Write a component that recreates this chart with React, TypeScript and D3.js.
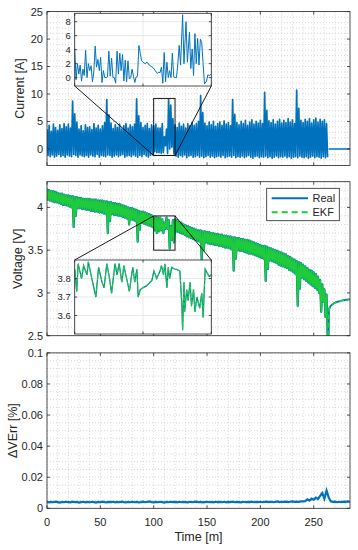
import React from 'react';
import * as d3 from 'd3';

// ---------- DATA ----------
const timeTicks = [0, 50, 100, 150, 200, 250];
const curTicks = [0, 5, 10, 15, 20, 25];
const voltTicks = [2.5, 3, 3.5, 4];
const voltTickLabels = ['2.5', '3', '3.5', '4'];
const errTicks = [0, 0.02, 0.04, 0.06, 0.08, 0.1];
const errTickLabels = ['0', '0.02', '0.04', '0.06', '0.08', '0.1'];
const curInsetTicks = [0, 2, 4, 6, 8];
const voltInsetTicks = [3.6, 3.7, 3.8];
const insetTimeTicks = [100, 110, 120];

// current: max / min per 2-minute bin, t = 0..264
const curHi = [
  3.6, 4.3, 3.2, 4.5, 3.9, 3.4, 4.4, 3.7, 4.6, 4.0,
  4.5, 3.8, 8.7, 6.4, 4.9, 3.6, 4.2, 3.3, 4.4, 3.9,
  4.0, 3.5, 4.6, 3.8, 4.3, 3.6, 4.2, 4.8, 9.0, 6.2,
  4.7, 3.7, 4.4, 3.9, 4.5, 3.6, 4.2, 4.6, 3.8, 4.4,
  4.0, 4.5, 9.1, 6.0, 4.8, 3.9, 4.3, 4.6, 3.7, 4.4,
  4.2, 4.5, 3.8, 3.8, 4.6, 2.2, 3.6, 9.0, 8.0, 5.5,
  4.4, 3.9, 4.7, 4.1, 4.5, 3.8, 4.6, 4.2, 4.8, 4.3,
  4.6, 5.0, 9.7, 6.6, 4.7, 4.2, 4.9, 4.4, 5.0, 4.1,
  4.6, 4.9, 4.3, 5.1, 4.5, 4.8, 4.2, 9.0, 6.3, 4.8,
  4.4, 5.0, 4.6, 5.2, 4.3, 4.9, 5.3, 4.5, 5.0, 4.7,
  5.2, 4.6, 10.3, 7.0, 5.1, 4.8, 5.3, 4.5, 5.0, 5.4,
  4.7, 5.2, 4.8, 5.5, 4.9, 5.3, 4.6, 10.7, 7.4, 5.2,
  4.8, 5.4, 5.0, 5.5, 4.7, 5.3, 5.6, 4.9, 5.4, 5.0, 5.3, 4.6,
];
const curLo = [
  -1.2, -1.4, -1.1, -1.5, -1.3, -1.0, -1.4, -1.2, -1.5, -1.1,
  -1.3, -1.4, -1.0, -1.2, -1.5, -1.1, -1.3, -1.4, -1.2, -1.5,
  -1.1, -1.3, -1.4, -1.0, -1.5, -1.2, -1.3, -1.4, -1.1, -1.2,
  -1.5, -1.3, -1.1, -1.4, -1.2, -1.0, -1.5, -1.3, -1.2, -1.4,
  -1.1, -1.3, -1.5, -1.2, -1.4, -1.0, -1.3, -1.5, -1.2, -1.1,
  -0.5, -0.7, -0.7, -0.8, -0.7, 0.6, -0.8, 0.0, 0.3, -0.9,
  -1.3, -1.5, -1.2, -1.4, -1.1, -1.6, -1.3, -1.2, -1.5, -1.4,
  -1.2, -1.5, -1.3, -1.6, -1.4, -1.2, -1.5, -1.3, -1.6, -1.4,
  -1.3, -1.5, -1.2, -1.6, -1.4, -1.3, -1.5, -1.2, -1.6, -1.4,
  -1.5, -1.3, -1.6, -1.4, -1.2, -1.5, -1.7, -1.4, -1.3, -1.6,
  -1.4, -1.5, -1.3, -1.6, -1.4, -1.7, -1.5, -1.3, -1.6, -1.4,
  -1.5, -1.3, -1.6, -1.4, -1.7, -1.5, -1.4, -1.6, -1.3, -1.5,
  -1.6, -1.4, -1.7, -1.5, -1.3, -1.6, -1.4, -1.5, -1.7, -1.4, -1.6, -1.5,
];
const curRestT = [264, 284];
const curRestV = [0, 0];

// current zoom (100-120 min)
const insetCurT = [
  100.0, 100.2, 100.4, 100.6, 100.8, 101.0, 101.2, 101.4, 101.6, 101.8,
  102.0, 102.2, 102.4, 102.6, 102.8, 103.0, 103.2, 103.4, 103.6, 103.8,
  104.0, 104.2, 104.4, 104.6, 104.8, 105.0, 105.2, 105.4, 105.6, 105.8,
  106.0, 106.2, 106.4, 106.6, 106.8, 107.0, 107.2, 107.4, 107.6, 107.8,
  108.0, 108.2, 108.4, 108.6, 108.8, 109.0, 109.2, 109.4, 109.6, 109.8,
  110.0, 110.3, 110.6, 110.9, 111.2, 111.5, 111.8, 112.1, 112.3, 112.5,
  112.7, 112.9, 113.1, 113.3, 113.5, 113.7, 113.9, 114.1, 114.3, 114.5,
  114.7, 114.9, 115.1, 115.3, 115.5, 115.8, 116.0, 116.3, 116.5, 116.8,
  117.0, 117.2, 117.4, 117.6, 117.8, 118.0, 118.2, 118.4, 118.6, 118.8,
  119.0, 119.3, 119.5, 119.7, 120.0,
];
const insetCurV = [
  4.2, -0.3, 2.0, 0.5, 1.8, -0.5, 1.2, 0.3, 3.9, 0.0,
  2.0, 1.0, 1.7, -0.6, 0.8, 4.5, 1.5, 2.6, 1.0, 2.9,
  -0.7, 1.0, 0.0, 0.0, 0.1, 3.8, 0.2, 2.8, 0.0, 0.0,
  -0.8, 3.8, 0.5, 3.5, 1.0, 3.3, -0.5, 2.5, -0.6, 2.4,
  -0.2, 0.0, 1.2, 0.2, -0.7, 0.1, 0.2, 4.6, 3.5, 2.4,
  2.2, 2.0, 2.2, 1.8, 1.6, 1.4, 1.0, 0.6, 0.8, 0.7,
  1.5, -0.8, 3.6, -0.6, 2.2, 0.0, 1.0, 0.0, 3.5, 0.1,
  0.0, 0.0, 2.0, 4.6, 1.8, 9.0, 2.0, 8.0, 2.2, 6.5,
  1.3, 4.1, 0.3, 6.3, 2.0, 5.6, 1.8, 5.5, 5.0, 2.0,
  -0.9, -0.5, 0.4, 0.3, 0.5,
];

// voltage: max / min per 2-minute bin, t = 0..264
const voltHi = [
  4.22, 4.20, 4.19, 4.19, 4.18, 4.17, 4.16, 4.16, 4.15, 4.14,
  4.14, 4.13, 4.13, 4.12, 4.12, 4.11, 4.11, 4.10, 4.10, 4.10,
  4.10, 4.09, 4.09, 4.09, 4.08, 4.08, 4.08, 4.07, 4.07, 4.06,
  4.06, 4.05, 4.05, 4.04, 4.04, 4.03, 4.02, 4.01, 4.00, 3.99,
  3.99, 3.98, 3.97, 3.96, 3.95, 3.95, 3.94, 3.93, 3.92, 3.91,
  3.88, 3.89, 3.88, 3.88, 3.86, 3.82, 3.88, 3.85, 3.78, 3.85,
  3.86, 3.85, 3.83, 3.82, 3.80, 3.79, 3.78, 3.77, 3.76, 3.75,
  3.74, 3.73, 3.73, 3.72, 3.72, 3.71, 3.71, 3.70, 3.70, 3.69,
  3.69, 3.68, 3.68, 3.67, 3.67, 3.66, 3.66, 3.65, 3.65, 3.64,
  3.64, 3.63, 3.63, 3.62, 3.62, 3.61, 3.60, 3.59, 3.58, 3.57,
  3.56, 3.55, 3.55, 3.54, 3.53, 3.52, 3.51, 3.50, 3.49, 3.48,
  3.47, 3.46, 3.45, 3.43, 3.42, 3.40, 3.39, 3.37, 3.36, 3.35,
  3.33, 3.31, 3.29, 3.27, 3.26, 3.24, 3.22, 3.19, 3.15, 3.10, 3.04, 2.98,
];
const voltLo = [
  4.09, 4.08, 4.07, 4.06, 4.06, 4.05, 4.04, 4.03, 4.03, 4.02,
  4.01, 4.00, 3.77, 3.90, 3.99, 3.99, 3.98, 3.98, 3.97, 3.97,
  3.96, 3.96, 3.95, 3.95, 3.94, 3.94, 3.93, 3.92, 3.70, 3.84,
  3.92, 3.91, 3.91, 3.90, 3.90, 3.89, 3.88, 3.87, 3.80, 3.86,
  3.85, 3.84, 3.60, 3.74, 3.82, 3.81, 3.80, 3.79, 3.78, 3.77,
  3.73, 3.70, 3.72, 3.73, 3.70, 3.75, 3.75, 3.52, 3.62, 3.59,
  3.72, 3.71, 3.70, 3.69, 3.68, 3.66, 3.65, 3.64, 3.63, 3.62,
  3.61, 3.60, 3.39, 3.50, 3.59, 3.58, 3.57, 3.57, 3.56, 3.56,
  3.55, 3.55, 3.54, 3.53, 3.53, 3.52, 3.51, 3.26, 3.40, 3.50,
  3.49, 3.49, 3.48, 3.47, 3.46, 3.46, 3.45, 3.44, 3.43, 3.42,
  3.41, 3.40, 3.14, 3.28, 3.38, 3.37, 3.36, 3.35, 3.33, 3.32,
  3.31, 3.30, 3.29, 3.27, 3.26, 3.24, 3.22, 2.85, 3.05, 3.18,
  3.16, 3.14, 3.12, 3.10, 3.08, 3.06, 3.04, 3.00, 2.78, 2.90, 2.72, 2.50,
];
const voltRestT = [264, 264.4, 265, 266, 268, 270, 272, 275, 278, 281, 284];
const voltRestV = [2.5, 2.8, 2.83, 2.85, 2.87, 2.885, 2.895, 2.905, 2.915, 2.92, 2.925];

// voltage zoom (100-120 min)
const insetVoltT = [
  100.0, 100.3, 100.5, 101.0, 101.3, 101.8, 102.0, 102.5, 103.1, 103.5,
  104.0, 104.3, 104.7, 105.1, 105.4, 105.9, 106.2, 106.5, 106.9, 107.2,
  107.6, 108.0, 108.5, 108.8, 109.1, 109.3, 109.6, 110.0, 110.5, 111.3,
  111.6, 112.0, 112.5, 112.7, 113.0, 113.2, 113.5, 113.7, 113.9, 114.2,
  114.7, 114.9, 115.4, 115.7, 115.8, 116.0, 116.1, 116.4, 116.6, 116.9,
  117.1, 117.4, 117.6, 117.9, 118.1, 118.3, 118.6, 118.8, 119.1, 119.4,
  119.7, 120.0,
];
const insetVoltV = [
  3.85, 3.73, 3.88, 3.80, 3.87, 3.82, 3.89, 3.80, 3.70, 3.86,
  3.78, 3.75, 3.88, 3.80, 3.72, 3.88, 3.82, 3.88, 3.78, 3.87,
  3.80, 3.73, 3.86, 3.78, 3.85, 3.70, 3.74, 3.75, 3.76, 3.79,
  3.84, 3.80, 3.84, 3.87, 3.82, 3.88, 3.75, 3.86, 3.80, 3.86,
  3.85, 3.85, 3.84, 3.65, 3.52, 3.78, 3.62, 3.74, 3.68, 3.78,
  3.65, 3.74, 3.62, 3.70, 3.67, 3.64, 3.72, 3.59, 3.85, 3.83,
  3.81, 3.82,
];

// voltage error, every 2 minutes, t = 0..284
const errV = [
  .0042, .0038, .0041, .0039, .0043, .0040, .0037, .0041, .0039, .0042,
  .0040, .0038, .0043, .0039, .0041, .0037, .0040, .0042, .0038, .0041,
  .0039, .0042, .0040, .0037, .0041, .0039, .0043, .0040, .0038, .0041,
  .0040, .0042, .0038, .0041, .0039, .0043, .0040, .0038, .0041, .0039,
  .0042, .0039, .0041, .0038, .0040, .0043, .0039, .0041, .0044, .0040,
  .0038, .0041, .0039, .0042, .0040, .0037, .0041, .0039, .0042, .0040,
  .0041, .0038, .0042, .0039, .0041, .0040, .0038, .0042, .0039, .0041,
  .0043, .0039, .0041, .0038, .0040, .0042, .0039, .0041, .0038, .0042,
  .0040, .0041, .0039, .0042, .0038, .0041, .0040, .0043, .0039, .0041,
  .0040, .0038, .0042, .0039, .0041, .0040, .0043, .0039, .0041, .0040,
  .0042, .0039, .0041, .0043, .0040, .0042, .0039, .0041, .0044, .0040,
  .0042, .0041, .0043, .0040, .0042, .0044, .0041, .0043, .0042, .0045,
  .0044, .0046, .0058, .0050, .0062, .0055, .0068, .0060, .0080, .0098,
  .0062, .0115, .0070, .0045, .0041, .0043, .0039, .0042, .0040, .0043,
  .0041, .0044, .0042,
];

const seriesNames = ['Real', 'EKF'];

// ---------- STYLE / LAYOUT ----------
const BLUE = '#0072BD';
const GREEN = '#1ecb3a';
const AX = '#262626';
const GRID = '#c6c6c6';
const FONT = '"Liberation Sans", Arial, Helvetica, sans-serif';

const W = 358, H = 550;
const xS = d3.scaleLinear().domain([0, 284]).range([47, 350]);
const yCur = d3.scaleLinear().domain([-3, 25]).range([165.4, 11.6]);
const yVolt = d3.scaleLinear().domain([2.5, 4.3]).range([335.7, 181.7]);
const yErr = d3.scaleLinear().domain([0, 0.1]).range([508.3, 352.9]);

const xInset = d3.scaleLinear().domain([100, 120]).range([74.7, 211.3]);
const yCurInset = d3.scaleLinear().domain([-1.2, 9.2]).range([86, 13.3]);
const yVoltInset = d3.scaleLinear().domain([3.5, 3.9]).range([334, 260]);

function range(a: number, b: number, step: number) {
  const out: number[] = [];
  for (let v = a; v <= b + step * 1e-6; v += step) out.push(+v.toFixed(6));
  return out;
}

// max/min bins -> alternating samples (max at bin start, min at bin middle)
function zig(hi: number[], lo: number[]) {
  const pts: { t: number; v: number }[] = [];
  hi.forEach((h, i) => {
    pts.push({ t: i * 2, v: h });
    pts.push({ t: i * 2 + 1, v: lo[i] });
  });
  return pts;
}

function Panel({ y, yTicks, yLabels, yMinorStep, label, labelX, showX, clipId }: any) {
  const [x0, x1] = xS.range();
  const [yb, yt] = y.range();
  const xMinor = range(0, 284, 10);
  const [d0, d1] = y.domain();
  const yMinor = range(Math.ceil(d0 / yMinorStep) * yMinorStep, d1, yMinorStep);
  return (
    <g>
      <defs>
        <clipPath id={clipId}>
          <rect x={x0} y={yt} width={x1 - x0} height={yb - yt} />
        </clipPath>
      </defs>
      <rect x={x0} y={yt} width={x1 - x0} height={yb - yt} fill="#fff" />
      <g stroke={GRID} strokeWidth={0.7} strokeDasharray="1,2">
        {xMinor.map((t) => (
          <line key={'gx' + t} x1={xS(t)} x2={xS(t)} y1={yt} y2={yb} />
        ))}
        {yMinor.map((v) => (
          <line key={'gy' + v} x1={x0} x2={x1} y1={y(v)} y2={y(v)} />
        ))}
      </g>
      <g fontFamily={FONT} fontSize={11} fill={AX} textAnchor="end">
        {yTicks.map((v: number, i: number) => (
          <text key={'yl' + v} x={x0 - 4} y={y(v)} dy="0.36em">
            {yLabels[i]}
          </text>
        ))}
      </g>
      {showX && (
        <g fontFamily={FONT} fontSize={11} fill={AX} textAnchor="middle">
          {timeTicks.map((t) => (
            <text key={'xl' + t} x={xS(t)} y={yb + 17.5}>
              {t}
            </text>
          ))}
        </g>
      )}
      <text
        transform={`translate(${labelX},${(yt + yb) / 2}) rotate(-90)`}
        textAnchor="middle"
        fontFamily={FONT}
        fontSize={12.5}
        fill={AX}
      >
        {label}
      </text>
    </g>
  );
}

function Frame({ y, yTicks }: any) {
  const [x0, x1] = xS.range();
  const [yb, yt] = y.range();
  const tl = 3;
  return (
    <g stroke={AX} strokeWidth={0.8} fill="none">
      <rect x={x0} y={yt} width={x1 - x0} height={yb - yt} />
      {timeTicks.map((t) => (
        <g key={'tx' + t}>
          <line x1={xS(t)} x2={xS(t)} y1={yb} y2={yb - tl} />
          <line x1={xS(t)} x2={xS(t)} y1={yt} y2={yt + tl} />
        </g>
      ))}
      {yTicks.map((v: number) => (
        <g key={'ty' + v}>
          <line x1={x0} x2={x0 + tl} y1={y(v)} y2={y(v)} />
          <line x1={x1} x2={x1 - tl} y1={y(v)} y2={y(v)} />
        </g>
      ))}
    </g>
  );
}

function Inset({ y, yTicks, yLabels, children, clipId }: any) {
  const [x0, x1] = xInset.range();
  const [yb, yt] = y.range();
  return (
    <g>
      <defs>
        <clipPath id={clipId}>
          <rect x={x0} y={yt} width={x1 - x0} height={yb - yt} />
        </clipPath>
      </defs>
      <rect x={x0} y={yt} width={x1 - x0} height={yb - yt} fill="#fff" />
      <g stroke="#e3e3e3" strokeWidth={0.8}>
        {insetTimeTicks.map((t) => (
          <line key={'ix' + t} x1={xInset(t)} x2={xInset(t)} y1={yt} y2={yb} />
        ))}
        {yTicks.map((v: number) => (
          <line key={'iy' + v} x1={x0} x2={x1} y1={y(v)} y2={y(v)} />
        ))}
      </g>
      <g clipPath={`url(#${clipId})`}>{children}</g>
      <g stroke={AX} strokeWidth={0.8} fill="none">
        <rect x={x0} y={yt} width={x1 - x0} height={yb - yt} />
        {insetTimeTicks.map((t) => (
          <g key={'itx' + t}>
            <line x1={xInset(t)} x2={xInset(t)} y1={yb} y2={yb - 2.5} />
            <line x1={xInset(t)} x2={xInset(t)} y1={yt} y2={yt + 2.5} />
          </g>
        ))}
        {yTicks.map((v: number) => (
          <g key={'ity' + v}>
            <line x1={x0} x2={x0 + 2.5} y1={y(v)} y2={y(v)} />
            <line x1={x1} x2={x1 - 2.5} y1={y(v)} y2={y(v)} />
          </g>
        ))}
      </g>
      <g fontFamily={FONT} fontSize={9.5} fill={AX} textAnchor="end">
        {yTicks.map((v: number, i: number) => (
          <text key={'itl' + v} x={x0 - 4} y={y(v)} dy="0.36em">
            {yLabels[i]}
          </text>
        ))}
      </g>
    </g>
  );
}

export default function App() {
  const curPts = zig(curHi, curLo);
  const voltPts = zig(voltHi, voltLo);

  const curZig = d3.line<any>().x((d) => xS(d.t)).y((d) => yCur(d.v))(curPts) as string;
  const curRest = d3.line<number>().x((t) => xS(t)).y((_, i) => yCur(curRestV[i]))(curRestT) as string;

  const voltZig = d3.line<any>().x((d) => xS(d.t)).y((d) => yVolt(d.v))(voltPts) as string;
  const voltRest = d3.line<number>().x((t) => xS(t)).y((_, i) => yVolt(voltRestV[i])).curve(d3.curveMonotoneX)(voltRestT) as string;

  const errLine = d3.line<number>().x((_, i) => xS(i * 2)).y((v) => yErr(v))(errV) as string;

  const curInsetLine = d3.line<number>().x((t) => xInset(t)).y((_, i) => yCurInset(insetCurV[i]))(insetCurT) as string;
  const voltInsetLine = d3.line<number>().x((t) => xInset(t)).y((_, i) => yVoltInset(insetVoltV[i]))(insetVoltT) as string;

  const [ix0, ix1] = xInset.range();

  return (
    <svg
      width={W}
      height={H}
      style={{ position: 'absolute', left: 0, top: 0, background: '#fff' }}
    >
      {/* ---- Current panel ---- */}
      <Panel y={yCur} yTicks={curTicks} yLabels={curTicks.map(String)} yMinorStep={1} label="Current [A]" labelX={24} showX={false} clipId="c1" />
      <g clipPath="url(#c1)">
        <path d={curZig} fill="none" stroke={BLUE} strokeWidth={1.7} strokeLinejoin="round" />
        <path d={curRest} fill="none" stroke={BLUE} strokeWidth={1.5} />
      </g>
      <Frame y={yCur} yTicks={curTicks} />
      <g stroke="#000" strokeWidth={0.9} fill="none">
        <rect x={xS(100)} y={yCur(9.2)} width={xS(120) - xS(100)} height={yCur(-1.2) - yCur(9.2)} />
        <line x1={xS(100)} y1={yCur(-1.2)} x2={ix0} y2={yCurInset(-1.2)} />
        <line x1={xS(120)} y1={yCur(-1.2)} x2={ix1} y2={yCurInset(-1.2)} />
      </g>
      <Inset y={yCurInset} yTicks={curInsetTicks} yLabels={curInsetTicks.map(String)} clipId="ci1">
        <path d={curInsetLine} fill="none" stroke={BLUE} strokeWidth={1} />
      </Inset>

      {/* ---- Voltage panel ---- */}
      <Panel y={yVolt} yTicks={voltTicks} yLabels={voltTickLabels} yMinorStep={0.1} label="Voltage [V]" labelX={22} showX={false} clipId="c2" />
      <g clipPath="url(#c2)">
        <path d={voltZig} fill="none" stroke={BLUE} strokeWidth={2.3} strokeLinejoin="round" />
        <path d={voltZig} fill="none" stroke={GREEN} strokeWidth={1.6} strokeLinejoin="round" />
        <path d={voltRest} fill="none" stroke={BLUE} strokeWidth={1.8} />
        <path d={voltRest} fill="none" stroke={GREEN} strokeWidth={1.8} strokeDasharray="5,3" />
      </g>
      <Frame y={yVolt} yTicks={voltTicks} />
      <g stroke="#000" strokeWidth={0.9} fill="none">
        <rect x={xS(100)} y={yVolt(3.9)} width={xS(120) - xS(100)} height={yVolt(3.5) - yVolt(3.9)} />
        <line x1={xS(100)} y1={yVolt(3.9)} x2={ix0} y2={yVoltInset(3.9)} />
        <line x1={xS(120)} y1={yVolt(3.9)} x2={ix1} y2={yVoltInset(3.9)} />
      </g>
      <Inset y={yVoltInset} yTicks={voltInsetTicks} yLabels={voltInsetTicks.map(String)} clipId="ci2">
        <path d={voltInsetLine} fill="none" stroke={BLUE} strokeWidth={1.2} />
        <path d={voltInsetLine} fill="none" stroke={GREEN} strokeWidth={1.2} strokeDasharray="4,1.5" />
      </Inset>
      {/* legend */}
      <g>
        <rect x={266.7} y={188.3} width={72.6} height={32.4} fill="#fff" stroke={AX} strokeWidth={0.8} />
        <line x1={271.7} x2={308} y1={198.3} y2={198.3} stroke={BLUE} strokeWidth={2} />
        <line x1={271.7} x2={308} y1={212.3} y2={212.3} stroke={GREEN} strokeWidth={2} strokeDasharray="6,4" />
        <g fontFamily={FONT} fontSize={11} fill={AX}>
          <text x={312.5} y={198.3} dy="0.36em">{seriesNames[0]}</text>
          <text x={312.5} y={212.3} dy="0.36em">{seriesNames[1]}</text>
        </g>
      </g>

      {/* ---- Error panel ---- */}
      <Panel y={yErr} yTicks={errTicks} yLabels={errTickLabels} yMinorStep={0.005} label="ΔVErr [%]" labelX={17} showX={true} clipId="c3" />
      <g clipPath="url(#c3)">
        <path d={errLine} fill="none" stroke={BLUE} strokeWidth={2.2} />
      </g>
      <Frame y={yErr} yTicks={errTicks} />
      <text x={(xS(0) + xS(284)) / 2} y={541} textAnchor="middle" fontFamily={FONT} fontSize={12.5} fill={AX}>
        Time [m]
      </text>
    </svg>
  );
}
